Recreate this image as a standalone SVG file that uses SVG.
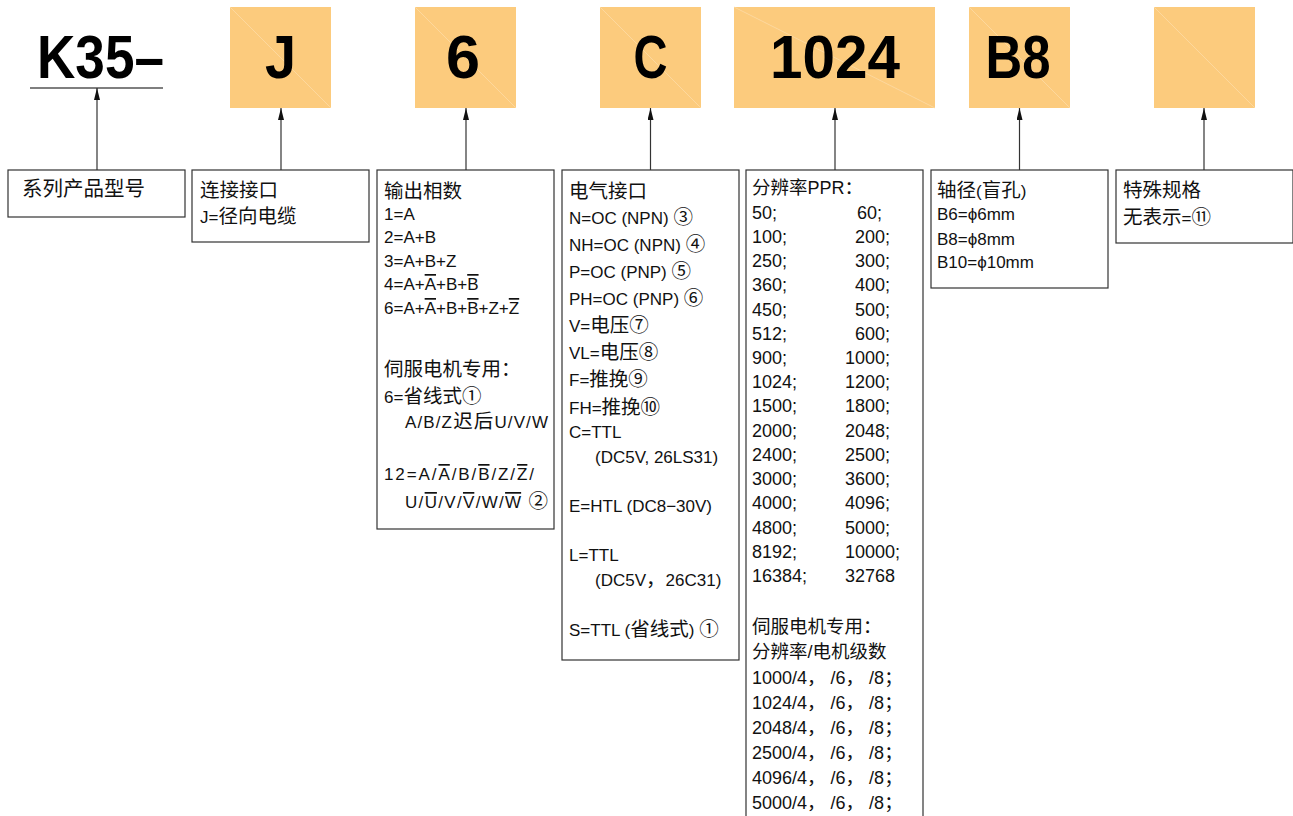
<svg xmlns="http://www.w3.org/2000/svg" width="1293" height="816" viewBox="0 0 1293 816">
<style>
.bg{fill:#ffffff}
.ob{fill:#FCCB7D}
.dg{stroke:#FDDBA6;stroke-width:0.8;fill:none}
.big{font-family:"Liberation Sans",Arial,sans-serif;font-size:62px;font-weight:bold;fill:#000}
.box{fill:#fff;stroke:#333;stroke-width:1.2}
.t{font-family:"Liberation Sans","Noto Sans CJK SC",sans-serif;font-size:17px;fill:#111}
.t5{font-family:"Liberation Sans","Noto Sans CJK SC",sans-serif;font-size:18px;fill:#111}
.c{font-family:"Noto Sans CJK SC",sans-serif;font-size:19.5px}
.c5{font-family:"Noto Sans CJK SC",sans-serif;font-size:18.5px}
.o{text-decoration:overline}
.ln{stroke:#333;stroke-width:1.2;fill:none}
</style>
<defs>
<marker id="ah" markerUnits="userSpaceOnUse" markerWidth="12" markerHeight="6" refX="12" refY="3" orient="auto">
<path d="M0,0 L12,3 L0,6 z" fill="#111"/>
</marker>
</defs>
<rect class="bg" x="0" y="0" width="1293" height="816"/>

<g id="code-k35">
<text class="big" x="37" y="78" textLength="127" lengthAdjust="spacingAndGlyphs">K35–</text>
<line x1="30" y1="88" x2="163" y2="88" stroke="#555" stroke-width="1.5"/>
</g>
<g id="code-j">
<rect class="ob" x="230" y="7" width="101" height="101"/>
<line class="dg" x1="230" y1="7" x2="331" y2="108"/>
<text class="big" x="280.5" y="78" text-anchor="middle" textLength="31" lengthAdjust="spacingAndGlyphs">J</text>
</g>
<g id="code-6">
<rect class="ob" x="415" y="7" width="101" height="101"/>
<line class="dg" x1="415" y1="7" x2="516" y2="108"/>
<text class="big" x="463" y="78" text-anchor="middle" textLength="34" lengthAdjust="spacingAndGlyphs">6</text>
</g>
<g id="code-c">
<rect class="ob" x="600" y="7" width="101" height="101"/>
<line class="dg" x1="600" y1="7" x2="701" y2="108"/>
<text class="big" x="650.5" y="78" text-anchor="middle" textLength="34" lengthAdjust="spacingAndGlyphs">C</text>
</g>
<g id="code-1024">
<rect class="ob" x="734" y="7" width="201" height="101"/>
<line class="dg" x1="734" y1="7" x2="935" y2="108"/>
<text class="big" x="835" y="78" text-anchor="middle" textLength="130" lengthAdjust="spacingAndGlyphs">1024</text>
</g>
<g id="code-b8">
<rect class="ob" x="969" y="7" width="101" height="101"/>
<line class="dg" x1="969" y1="7" x2="1070" y2="108"/>
<text class="big" x="1018" y="78" text-anchor="middle" textLength="65" lengthAdjust="spacingAndGlyphs">B8</text>
</g>
<g id="code-blank">
<rect class="ob" x="1154" y="7" width="101" height="101"/>
<line class="dg" x1="1154" y1="7" x2="1255" y2="108"/>
</g>

<g id="connectors">
<line class="ln" x1="97" y1="170" x2="97" y2="88" marker-end="url(#ah)"/>
<line class="ln" x1="281" y1="170" x2="281" y2="108" marker-end="url(#ah)"/>
<line class="ln" x1="466" y1="170" x2="466" y2="108" marker-end="url(#ah)"/>
<line class="ln" x1="650.5" y1="170" x2="650.5" y2="108" marker-end="url(#ah)"/>
<line class="ln" x1="835" y1="170" x2="835" y2="108" marker-end="url(#ah)"/>
<line class="ln" x1="1019.5" y1="170" x2="1019.5" y2="108" marker-end="url(#ah)"/>
<line class="ln" x1="1204" y1="170" x2="1204" y2="108" marker-end="url(#ah)"/>
</g>

<g id="desc-series">
<rect class="box" x="8" y="170" width="177" height="47"/>
<text class="t" x="22" y="196"><tspan class="c" style="font-size:20.5px">系列产品型号</tspan></text>
</g>

<g id="desc-connect">
<rect class="box" x="192" y="170" width="177" height="72"/>
<text class="t" x="200" y="197"><tspan class="c">连接接口</tspan></text>
<text class="t" x="200" y="223">J=<tspan class="c">径向电缆</tspan></text>
</g>

<g id="desc-phase">
<rect class="box" x="377" y="170" width="177" height="359"/>
<text class="t" x="384" y="198"><tspan class="c">输出相数</tspan></text>
<text class="t" x="384" y="220">1=A</text>
<text class="t" x="384" y="243">2=A+B</text>
<text class="t" x="384" y="267">3=A+B+Z</text>
<text class="t" x="384" y="290">4=A+<tspan class="o">A</tspan>+B+<tspan class="o">B</tspan></text>
<text class="t" x="384" y="314">6=A+<tspan class="o">A</tspan>+B+<tspan class="o">B</tspan>+Z+<tspan class="o">Z</tspan></text>
<text class="t" x="384" y="376"><tspan class="c">伺服电机专用：</tspan></text>
<text class="t" x="384" y="403">6=<tspan class="c">省线式①</tspan></text>
<text class="t" x="405" y="428" textLength="143" lengthAdjust="spacing">A/B/Z<tspan class="c">迟后</tspan>U/V/W</text>
<text class="t" x="384" y="480" textLength="150" lengthAdjust="spacing">12=A/<tspan class="o">A</tspan>/B/<tspan class="o">B</tspan>/Z/<tspan class="o">Z</tspan>/</text>
<text class="t" x="405" y="508" textLength="143" lengthAdjust="spacing">U/<tspan class="o">U</tspan>/V/<tspan class="o">V</tspan>/W/<tspan class="o">W</tspan> <tspan class="c">②</tspan></text>
</g>

<g id="desc-electric">
<rect class="box" x="562" y="170" width="177" height="490"/>
<text class="t" x="569" y="198"><tspan class="c">电气接口</tspan></text>
<text class="t" x="569" y="224">N=OC (NPN) <tspan class="c">③</tspan></text>
<text class="t" x="569" y="251">NH=OC (NPN) <tspan class="c">④</tspan></text>
<text class="t" x="569" y="278">P=OC (PNP) <tspan class="c">⑤</tspan></text>
<text class="t" x="569" y="305">PH=OC (PNP) <tspan class="c">⑥</tspan></text>
<text class="t" x="569" y="332">V=<tspan class="c">电压⑦</tspan></text>
<text class="t" x="569" y="359">VL=<tspan class="c">电压⑧</tspan></text>
<text class="t" x="569" y="386">F=<tspan class="c">推挽⑨</tspan></text>
<text class="t" x="569" y="414">FH=<tspan class="c">推挽⑩</tspan></text>
<text class="t" x="569" y="438">C=TTL</text>
<text class="t" x="595" y="463">(DC5V, 26LS31)</text>
<text class="t" x="569" y="512">E=HTL (DC8−30V)</text>
<text class="t" x="569" y="561">L=TTL</text>
<text class="t" x="595" y="586">(DC5V<tspan class="c">，</tspan>26C31)</text>
<text class="t" x="569" y="636">S=TTL (<tspan class="c">省线式</tspan>) <tspan class="c">①</tspan></text>
</g>

<g id="desc-resolution">
<rect class="box" x="746" y="170" width="177" height="660"/>
<text class="t5" x="752" y="194"><tspan class="c5">分辨率</tspan>PPR<tspan class="c5">：</tspan></text>
<text class="t5" x="752" y="219">50;</text><text class="t5" x="857" y="219">60;</text>
<text class="t5" x="752" y="243">100;</text><text class="t5" x="855" y="243">200;</text>
<text class="t5" x="752" y="267">250;</text><text class="t5" x="855" y="267">300;</text>
<text class="t5" x="752" y="291">360;</text><text class="t5" x="855" y="291">400;</text>
<text class="t5" x="752" y="316">450;</text><text class="t5" x="855" y="316">500;</text>
<text class="t5" x="752" y="340">512;</text><text class="t5" x="855" y="340">600;</text>
<text class="t5" x="752" y="364">900;</text><text class="t5" x="845" y="364">1000;</text>
<text class="t5" x="752" y="388">1024;</text><text class="t5" x="845" y="388">1200;</text>
<text class="t5" x="752" y="412">1500;</text><text class="t5" x="845" y="412">1800;</text>
<text class="t5" x="752" y="437">2000;</text><text class="t5" x="845" y="437">2048;</text>
<text class="t5" x="752" y="461">2400;</text><text class="t5" x="845" y="461">2500;</text>
<text class="t5" x="752" y="485">3000;</text><text class="t5" x="845" y="485">3600;</text>
<text class="t5" x="752" y="509">4000;</text><text class="t5" x="845" y="509">4096;</text>
<text class="t5" x="752" y="534">4800;</text><text class="t5" x="845" y="534">5000;</text>
<text class="t5" x="752" y="558">8192;</text><text class="t5" x="845" y="558">10000;</text>
<text class="t5" x="752" y="582">16384;</text><text class="t5" x="845" y="582">32768</text>
<text class="t5" x="752" y="633"><tspan class="c5">伺服电机专用：</tspan></text>
<text class="t5" x="752" y="658"><tspan class="c5">分辨率</tspan>/<tspan class="c5">电机级数</tspan></text>
<text class="t5" x="752" y="684">1000/4<tspan class="c5">，</tspan> /6<tspan class="c5">，</tspan> /8<tspan class="c5">；</tspan></text>
<text class="t5" x="752" y="709">1024/4<tspan class="c5">，</tspan> /6<tspan class="c5">，</tspan> /8<tspan class="c5">；</tspan></text>
<text class="t5" x="752" y="734">2048/4<tspan class="c5">，</tspan> /6<tspan class="c5">，</tspan> /8<tspan class="c5">；</tspan></text>
<text class="t5" x="752" y="759">2500/4<tspan class="c5">，</tspan> /6<tspan class="c5">，</tspan> /8<tspan class="c5">；</tspan></text>
<text class="t5" x="752" y="784">4096/4<tspan class="c5">，</tspan> /6<tspan class="c5">，</tspan> /8<tspan class="c5">；</tspan></text>
<text class="t5" x="752" y="809">5000/4<tspan class="c5">，</tspan> /6<tspan class="c5">，</tspan> /8<tspan class="c5">；</tspan></text>
</g>

<g id="desc-shaft">
<rect class="box" x="931" y="170" width="177" height="118"/>
<text class="t" x="937" y="197"><tspan class="c">轴径</tspan>(<tspan class="c">盲孔</tspan>)</text>
<text class="t" x="937" y="220">B6=ϕ6mm</text>
<text class="t" x="937" y="245">B8=ϕ8mm</text>
<text class="t" x="937" y="268">B10=ϕ10mm</text>
</g>

<g id="desc-special">
<rect class="box" x="1116" y="170" width="177" height="73"/>
<text class="t" x="1123" y="197"><tspan class="c">特殊规格</tspan></text>
<text class="t" x="1123" y="224"><tspan class="c">无表示</tspan>=<tspan class="c">⑪</tspan></text>
</g>
</svg>
